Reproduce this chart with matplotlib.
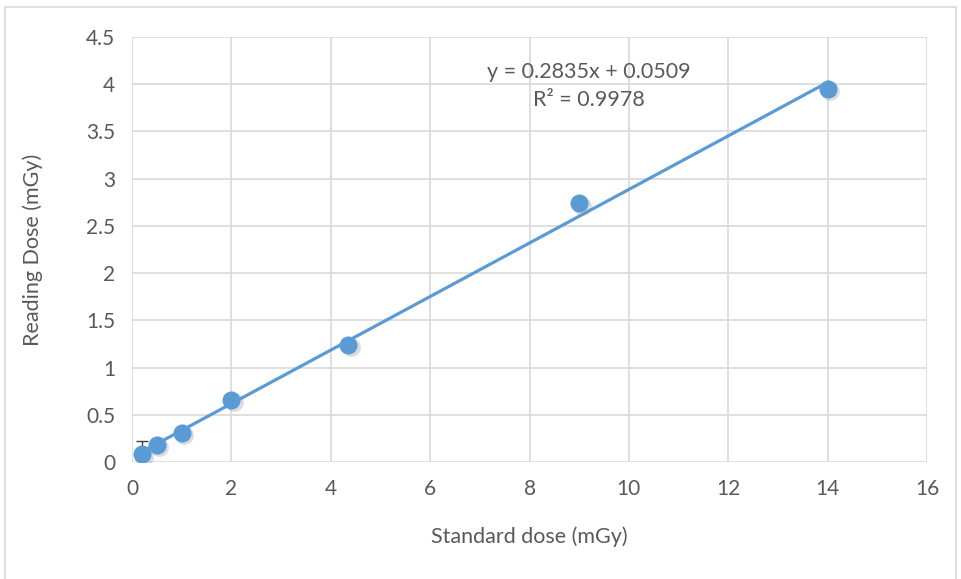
import numpy as np
import matplotlib.pyplot as plt
from matplotlib.patches import Rectangle

plt.rcParams["font.family"] = ["Lato", "DejaVu Sans"]

# data
standard_dose = [0.2, 0.5, 1, 2, 4.35, 9, 14]
reading_dose = [0.08, 0.18, 0.31, 0.66, 1.24, 2.74, 3.95]
slope = 0.2835
intercept = 0.0509
r2 = 0.9978

blue = "#5B9BD5"
grey = "#595959"

fig = plt.figure(figsize=(9.61, 5.79), dpi=100)
fig.patches.append(Rectangle((0.005, -0.01), 0.99, 0.998, transform=fig.transFigure,
                             fill=False, edgecolor="#d9d9d9", linewidth=1.2))
ax = fig.add_axes([0.1374, 0.2021, 0.8272, 0.734])

ax.set_xlim(0, 16)
ax.set_ylim(0, 4.5)
ax.set_xticks(np.arange(0, 17, 2))
ax.set_yticks(np.arange(0, 4.6, 0.5))
ax.set_yticklabels(["0", "0.5", "1", "1.5", "2", "2.5", "3", "3.5", "4", "4.5"])
ax.grid(True, color="#d9d9d9", linewidth=1.2)
ax.set_axisbelow(True)
for s in ax.spines.values():
    s.set_visible(False)
ax.tick_params(length=0, labelsize=15, labelcolor=grey, pad=12)

# trendline
xs = np.array([standard_dose[0], standard_dose[-1]])
ax.plot(xs, slope * xs + intercept, color=blue, linewidth=2.3, zorder=3)

# small error bar on the first point
ax.errorbar(standard_dose[0], reading_dose[0], yerr=[[0], [0.14]], fmt="none",
            ecolor="#404040", elinewidth=1, capsize=4, zorder=2)

# soft shadow then markers
ax.plot(np.array(standard_dose) + 0.05, np.array(reading_dose) - 0.025, "o",
        color="#7f8fa0", markersize=13.5, alpha=0.3, markeredgewidth=0, zorder=3)
ax.plot(standard_dose, reading_dose, "o", color=blue, markersize=13,
        markeredgewidth=0, zorder=4)

ax.text(9.2, 4.13, f"y = {slope}x + {intercept}", ha="center", va="center",
        fontsize=15.5, color=grey)
ax.text(9.2, 3.83, f"R² = {r2}", ha="center", va="center", fontsize=15.5, color=grey)

ax.set_xlabel("Standard dose (mGy)", fontsize=15.5, color=grey, labelpad=20)
ax.set_ylabel("Reading Dose (mGy)", fontsize=15.5, color=grey, labelpad=31)

fig.savefig("out.png", dpi=100)
